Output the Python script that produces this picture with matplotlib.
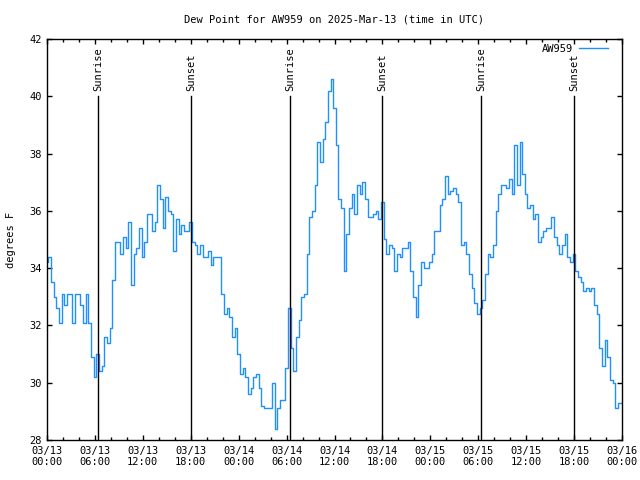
import numpy as np
import matplotlib
matplotlib.use("Agg")
import matplotlib.pyplot as plt
from matplotlib.ticker import MultipleLocator, FixedLocator, FixedFormatter

plt.rcParams['font.family'] = ['DejaVu Sans Mono']
plt.rcParams['font.size'] = 7.5

# dew point (F), one reading every 20 minutes from 2025-03-13 00:00 UTC
dew_f = [
    34.2, 34.4, 33.5, 33.0, 32.6, 32.1, 33.1, 32.7, 33.1, 33.1,
    32.1, 33.1, 33.1, 32.7, 32.1, 33.1, 32.1, 30.9, 30.2, 31.0,
    30.4, 30.6, 31.6, 31.4, 31.9, 33.6, 34.9, 34.9, 34.5, 35.1,
    34.7, 35.6, 33.4, 34.5, 34.7, 35.4, 34.4, 34.9, 35.9, 35.9,
    35.3, 35.6, 36.9,
    36.4, 35.4, 36.5, 36.0, 35.9, 34.6, 35.7, 35.2, 35.5, 35.3,
    35.3, 35.6, 34.9, 34.8, 34.5, 34.8, 34.4, 34.4, 34.6, 34.1,
    34.4, 34.4, 34.4, 33.1, 32.4, 32.6, 32.3, 31.6, 31.9, 31.0,
    30.3, 30.5, 30.2, 29.6, 29.8, 30.2, 30.3, 29.8, 29.2, 29.1,
    29.1, 29.1, 30.0,
    28.4, 29.1, 29.4, 29.4, 30.5, 32.6, 31.2, 30.4, 31.6, 32.2,
    33.0, 33.1, 34.5, 35.8, 36.0, 36.9, 38.4, 37.7, 38.5, 39.1,
    40.2, 40.6, 39.6, 38.3, 36.4, 36.1, 33.9, 35.2, 36.1, 36.6,
    35.9, 36.9, 36.6, 37.0, 36.4, 35.8, 35.8, 35.9, 36.0, 35.7,
    36.3, 35.0, 34.5,
    34.8, 34.7, 33.9, 34.5, 34.4, 34.7, 34.7, 34.9, 33.9, 33.0,
    32.3, 33.4, 34.2, 34.0, 34.0, 34.2, 34.5, 35.3, 35.3, 36.2,
    36.4, 37.2, 36.6, 36.7, 36.8, 36.6, 36.3, 34.8, 34.9, 34.5,
    33.8, 33.3, 32.8, 32.4, 32.6, 32.9, 33.8, 34.5, 34.4, 34.8,
    36.0, 36.6, 36.9,
    36.9, 36.8, 37.1, 36.6, 38.3, 36.9, 38.4, 37.3, 36.6, 36.1,
    36.2, 35.7, 35.9, 34.9, 35.1, 35.3, 35.4, 35.4, 35.8, 35.1,
    34.8, 34.5, 34.8, 35.2, 34.4, 34.2, 34.5, 33.9, 33.7, 33.5,
    33.2, 33.3, 33.2, 33.3, 32.7, 32.4, 31.2, 30.6, 31.5, 30.9,
    30.1, 30.0, 29.1, 29.3, 29.3,
]
hours = np.arange(len(dew_f)) / 3.0

# hours since 03/13 00:00 UTC
sunrise = [6.42, 30.45, 54.38]
sunset = [18.05, 41.98, 66.0]

tick_hours = list(range(0, 73, 6))
tick_labels = ["03/13\n00:00", "03/13\n06:00", "03/13\n12:00", "03/13\n18:00",
               "03/14\n00:00", "03/14\n06:00", "03/14\n12:00", "03/14\n18:00",
               "03/15\n00:00", "03/15\n06:00", "03/15\n12:00", "03/15\n18:00",
               "03/16\n00:00"]

fig = plt.figure(figsize=(6.4, 4.8), dpi=100)
ax = fig.add_axes([47 / 640, 40 / 480, 575 / 640, 401 / 480])

ax.plot(hours, dew_f, color="#1e90ff", lw=1, drawstyle="steps-mid", label="AW959")

for h in sunrise:
    ax.plot([h, h], [28, 40], color="black", lw=1)
    ax.text(h, 40.2, "Sunrise", rotation=90, ha="center", va="bottom")
for h in sunset:
    ax.plot([h, h], [28, 40], color="black", lw=1)
    ax.text(h, 40.2, "Sunset", rotation=90, ha="center", va="bottom")

ax.set_xlim(0, 72)
ax.set_ylim(28, 42)
ax.xaxis.set_major_locator(FixedLocator(tick_hours))
ax.xaxis.set_major_formatter(FixedFormatter(tick_labels))
ax.xaxis.set_minor_locator(MultipleLocator(2))
ax.yaxis.set_major_locator(MultipleLocator(2))
ax.tick_params(which="both", direction="in", top=True, right=True, color="black")
ax.tick_params(which="major", length=3.5, width=1, pad=4)
ax.tick_params(which="minor", length=2, width=1)
for s in ax.spines.values():
    s.set_linewidth(1)

ax.set_title("Dew Point for AW959 on 2025-Mar-13 (time in UTC)", fontsize=7.5, pad=12)
ax.set_ylabel("degrees F", labelpad=9)

ax.legend(loc="upper right", bbox_to_anchor=(0.986, 1.003), frameon=False,
          markerfirst=False, handlelength=2.8, handletextpad=0.5,
          borderaxespad=0.2, fontsize=7.5)

plt.savefig("out.png", dpi=100)
